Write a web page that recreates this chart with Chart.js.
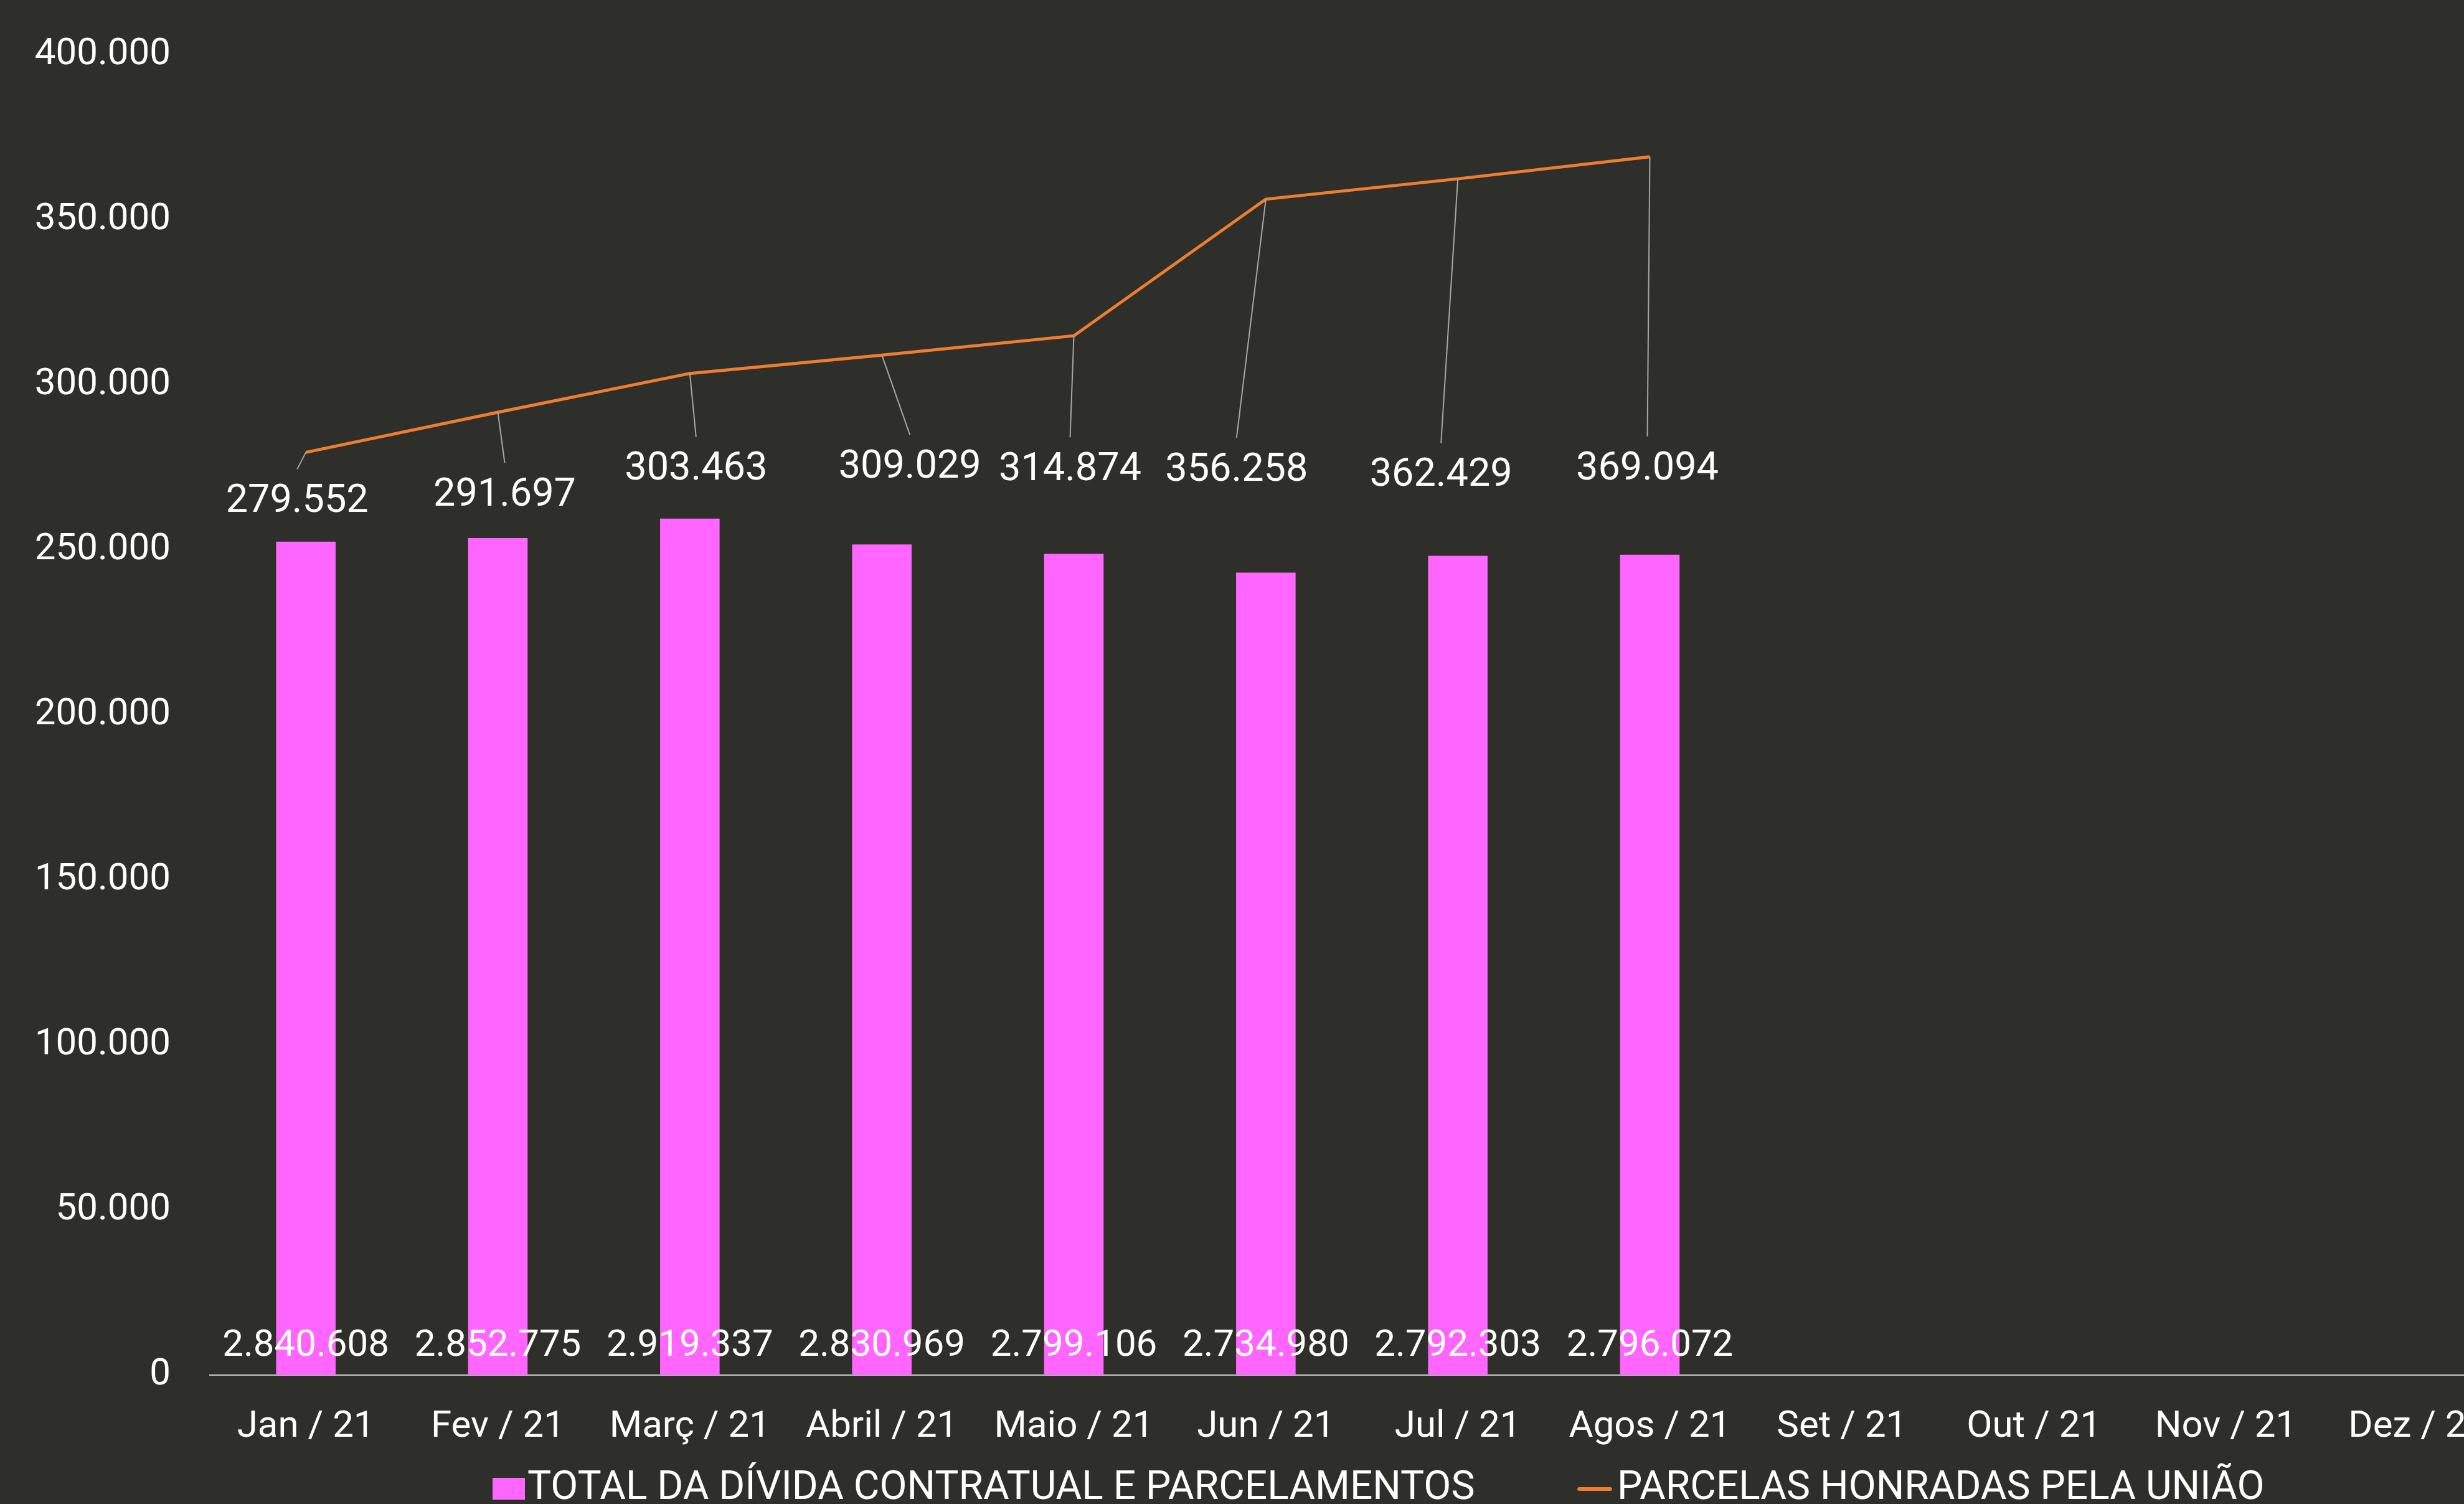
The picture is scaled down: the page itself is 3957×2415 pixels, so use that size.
<!DOCTYPE html>
<html lang="pt-BR">
<head>
<meta charset="utf-8">
<title>Dívida contratual e parcelas honradas pela União – 2021</title>
<script src="https://cdn.jsdelivr.net/npm/chart.js@4.4.1/dist/chart.umd.min.js"></script>
<style>
  html, body { margin: 0; padding: 0; background: #2e2e2a; overflow: hidden; }
  #wrap { width: 3957px; height: 2415px; overflow: hidden; }
  canvas { display: block; }
</style>
</head>
<body>
<div id="wrap"><canvas id="chart" width="4060" height="2415"></canvas></div>
<script>
/* ── data ────────────────────────────────────────────────── */

const MONTHS = ["Jan / 21", "Fev / 21", "Març / 21", "Abril / 21", "Maio / 21", "Jun / 21",
                "Jul / 21", "Agos / 21", "Set / 21", "Out / 21", "Nov / 21", "Dez / 21"];

const TOTAL_DIVIDA      = [2840608, 2852775, 2919337, 2830969, 2799106, 2734980, 2792303, 2796072];
const PARCELAS_HONRADAS = [279552, 291697, 303463, 309029, 314874, 356258, 362429, 369094];

const LEGEND_LABELS = ["TOTAL DA DÍVIDA CONTRATUAL E PARCELAMENTOS", "PARCELAS HONRADAS PELA UNIÃO"];

const LEFT_MAX  = 400000;
const LEFT_STEP = 50000;
const RIGHT_MAX = 4500000;

/* ── style ───────────────────────────────────────────────── */

const BG      = "#2e2e2a";
const PINK    = "#ff66ff";
const ORANGE  = "#ed7d31";
const AXIS    = "#c8c8c8";
const LEADER  = "#a6a6a6";
const TEXT    = "#ffffff";
const FONT    = "Roboto, 'Liberation Sans', sans-serif";

// where each line label sits, relative to its point (px)
const CALLOUT_OFFSETS = [[-14, 80], [11, 134], [10, 155], [45, 181], [-6, 216], [-47, 436], [-27, 477], [-4, 502]];

/* ── helpers ─────────────────────────────────────────────── */

const fmt = v => String(v).replace(/\B(?=(\d{3})+(?!\d))/g, ".");

/* ── labels + legend plugin ──────────────────────────────── */

const labelsPlugin = {
  id: "labels",
  beforeDraw(chart) {
    const { ctx, width, height } = chart;
    ctx.save();
    ctx.fillStyle = BG;
    ctx.fillRect(0, 0, width, height);
    ctx.restore();
  },
  afterDatasetsDraw(chart) {
    const { ctx } = chart;
    const barMeta  = chart.getDatasetMeta(0);
    const lineMeta = chart.getDatasetMeta(1);
    const zero = chart.scales.y1.getPixelForValue(0);

    ctx.save();
    ctx.fillStyle = TEXT;
    ctx.textAlign = "center";
    ctx.textBaseline = "middle";

    // bar values, along the base
    ctx.font = `60px ${FONT}`;
    barMeta.data.forEach((bar, i) => {
      ctx.fillText(fmt(TOTAL_DIVIDA[i]), bar.x, zero - 46);
    });

    // line values with leader lines
    ctx.font = `63px ${FONT}`;
    lineMeta.data.forEach((pt, i) => {
      const [dx, dy] = CALLOUT_OFFSETS[i];
      const lx = pt.x + dx, ly = pt.y + dy;
      ctx.strokeStyle = LEADER;
      ctx.lineWidth = 2;
      ctx.beginPath();
      ctx.moveTo(pt.x, pt.y);
      ctx.lineTo(lx, ly - 53);
      ctx.stroke();
      ctx.fillText(fmt(PARCELAS_HONRADAS[i]), lx, ly);
    });
    ctx.restore();
  },
  afterDraw(chart) {
    const { ctx } = chart;
    const y = 2391;
    let x = 791;

    ctx.save();
    ctx.font = `64px ${FONT}`;
    ctx.textBaseline = "middle";
    ctx.textAlign = "left";

    ctx.fillStyle = PINK;
    ctx.fillRect(x, y - 18, 52, 35);
    x += 56;
    ctx.fillStyle = TEXT;
    ctx.fillText(LEGEND_LABELS[0], x, y);
    x = 2533;

    ctx.strokeStyle = ORANGE;
    ctx.lineWidth = 6;
    ctx.lineCap = "round";
    ctx.beginPath();
    ctx.moveTo(x + 3, y);
    ctx.lineTo(x + 53, y);
    ctx.stroke();
    ctx.fillText(LEGEND_LABELS[1], x + 64, y);
    ctx.restore();
  },
};

/* ── chart ───────────────────────────────────────────────── */

new Chart(document.getElementById("chart"), {
  type: "bar",
  data: {
    labels: MONTHS,
    datasets: [
      {
        label: LEGEND_LABELS[0],
        data: TOTAL_DIVIDA,
        backgroundColor: PINK,
        yAxisID: "y1",
        order: 2,
        categoryPercentage: 1,
        barPercentage: 0.31,
      },
      {
        type: "line",
        label: LEGEND_LABELS[1],
        data: PARCELAS_HONRADAS,
        borderColor: ORANGE,
        borderWidth: 5,
        pointRadius: 0,
        tension: 0,
        yAxisID: "y",
        order: 1,
      },
    ],
  },
  options: {
    responsive: false,
    animation: false,
    devicePixelRatio: 1,
    layout: { padding: { top: 88, right: 23, bottom: 39, left: 0 } },
    plugins: {
      legend: { display: false },
      tooltip: { enabled: false },
    },
    scales: {
      x: {
        grid: { display: false, drawTicks: false },
        border: { display: true, color: AXIS, width: 2 },
        ticks: { color: TEXT, font: { family: FONT, size: 60 }, padding: 48, maxRotation: 0, autoSkip: false },
      },
      y: {
        position: "left",
        min: 0,
        max: LEFT_MAX,
        grid: { display: false, drawTicks: false },
        border: { display: false },
        ticks: { stepSize: LEFT_STEP, color: TEXT, font: { family: FONT, size: 60 }, padding: 63, callback: fmt },
        afterFit: s => { s.width = 337; s.paddingTop = 0; s.paddingBottom = 0; },
      },
      y1: {
        position: "right",
        display: false,
        min: 0,
        max: RIGHT_MAX,
      },
    },
  },
  plugins: [labelsPlugin],
});
</script>
</body>
</html>
